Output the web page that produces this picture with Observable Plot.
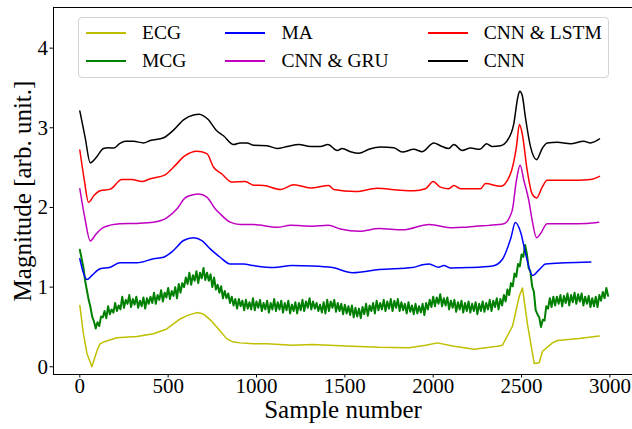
<!DOCTYPE html>
<html><head><meta charset="utf-8">
<script src="https://cdn.jsdelivr.net/npm/d3@7"></script>
<script src="https://cdn.jsdelivr.net/npm/@observablehq/plot@0.6"></script>
<style>
body{margin:0;background:#fff;}
#chart{position:relative;width:632px;height:429px;font-family:"Liberation Serif","DejaVu Serif",serif;overflow:hidden;}
#legend{position:absolute;left:78px;top:17px;width:531px;height:61px;box-sizing:border-box;border:1px solid #d4d4d4;border-radius:4px;background:rgba(255,255,255,0.8);display:grid;grid-auto-flow:column;grid-template-rows:28px 28px;justify-content:start;column-gap:39px;padding:1px 0 0 7px;font-size:19.5px;color:#000;font-family:"Liberation Serif",serif;}
.item{display:flex;align-items:center;white-space:nowrap;}
.sw{display:inline-block;width:40px;height:1.6px;margin-right:16px;}
#ylab{position:absolute;left:21.6px;top:190.5px;font-size:25px;line-height:1;white-space:nowrap;transform:translate(-50%,-50%) rotate(-90deg);color:#000;font-family:"Liberation Serif",serif;}
</style></head>
<body>
<div id="chart"></div>
<script>
const xTicks = [0, 500, 1000, 1500, 2000, 2500, 3000];
const yTicks = [0, 1, 2, 3, 4];
const xLabel = "Sample number";
const yLabel = "Magnitude [arb. unit.]";
const names = ["ECG", "MCG", "MA", "CNN & GRU", "CNN & LSTM", "CNN"];
const colors = ["#bfbf00", "#008000", "#0000ff", "#bf00bf", "#ff0000", "#000000"];

const ecg = [[0,0.77],[20,0.42],[40,0.17],[68,0.0],[100,0.22],[115,0.29],[134,0.31],[210,0.365],[323,0.38],[417,0.415],[492,0.475],[568,0.60],[610,0.645],[662,0.68],[690,0.67],[709,0.645],[740,0.585],[775,0.50],[832,0.35],[870,0.31],[908,0.30],[983,0.29],[1060,0.29],[1200,0.27],[1317,0.28],[1505,0.26],[1694,0.245],[1864,0.24],[1958,0.27],[2024,0.30],[2109,0.26],[2232,0.22],[2373,0.26],[2392,0.27],[2449,0.51],[2487,0.885],[2505,0.99],[2534,0.53],[2572,0.04],[2600,0.05],[2619,0.195],[2675,0.30],[2703,0.33],[2826,0.355],[2939,0.385]];

const mcgStep = 10;
const mcg = [
1.47,1.36,1.25,1.08,0.96,0.84,0.75,0.63,0.57,0.48,
0.56,0.51,0.63,0.62,0.70,0.61,0.76,0.66,0.72,0.68,
0.80,0.70,0.77,0.72,0.88,0.74,0.84,0.79,0.90,0.75,
0.85,0.78,0.88,0.74,0.83,0.76,0.87,0.73,0.86,0.79,
0.88,0.80,0.93,0.79,0.90,0.84,0.96,0.82,0.93,0.87,
0.99,0.85,0.95,0.89,1.00,0.86,1.04,0.93,1.05,1.00,
1.12,1.04,1.18,1.03,1.15,1.08,1.20,1.05,1.18,1.11,
1.24,1.09,1.18,1.08,1.16,1.00,1.12,0.97,1.03,0.93,
1.01,0.86,0.95,0.86,0.92,0.80,0.88,0.77,0.85,0.73,
0.85,0.76,0.83,0.71,0.84,0.73,0.81,0.72,0.86,0.71,
0.82,0.74,0.84,0.70,0.80,0.72,0.83,0.68,0.80,0.72,
0.85,0.70,0.81,0.72,0.83,0.68,0.80,0.71,0.83,0.67,
0.78,0.70,0.81,0.67,0.80,0.71,0.84,0.70,0.82,0.74,
0.86,0.72,0.82,0.73,0.80,0.70,0.78,0.68,0.81,0.67,
0.84,0.70,0.82,0.74,0.84,0.69,0.80,0.70,0.79,0.66,
0.78,0.67,0.76,0.65,0.77,0.62,0.74,0.63,0.73,0.61,
0.75,0.66,0.79,0.64,0.77,0.70,0.80,0.67,0.83,0.71,
0.80,0.72,0.84,0.70,0.82,0.73,0.85,0.70,0.83,0.74,
0.85,0.70,0.81,0.71,0.79,0.67,0.81,0.69,0.77,0.66,
0.79,0.67,0.76,0.68,0.79,0.65,0.80,0.72,0.84,0.75,
0.88,0.76,0.87,0.79,0.91,0.76,0.86,0.77,0.87,0.72,
0.83,0.74,0.84,0.69,0.81,0.72,0.83,0.68,0.80,0.70,
0.82,0.68,0.79,0.70,0.81,0.66,0.79,0.70,0.82,0.69,
0.80,0.72,0.84,0.70,0.83,0.75,0.86,0.72,0.85,0.77,
0.90,0.82,0.97,0.90,1.05,1.01,1.17,1.13,1.29,1.26,
1.41,1.38,1.53,1.42,1.24,1.20,1.01,0.94,0.71,0.66,
0.62,0.50,0.59,0.58,0.76,0.73,0.86,0.75,0.88,0.77,
0.88,0.79,0.90,0.76,0.89,0.80,0.92,0.77,0.90,0.81,
0.93,0.79,0.91,0.82,0.92,0.77,0.88,0.79,0.89,0.75,
0.86,0.76,0.88,0.75,0.90,0.83,0.94,0.86,0.99,0.89];

const ma = [[0,1.355],[20,1.18],[40,1.095],[70,1.15],[115,1.23],[172,1.25],[228,1.305],[323,1.305],[417,1.355],[474,1.375],[530,1.46],[587,1.585],[643,1.62],[691,1.585],[738,1.48],[794,1.375],[851,1.29],[926,1.29],[983,1.27],[1098,1.245],[1200,1.27],[1317,1.265],[1430,1.245],[1543,1.18],[1694,1.22],[1883,1.245],[1940,1.28],[1977,1.29],[2030,1.25],[2060,1.27],[2100,1.24],[2204,1.245],[2336,1.265],[2392,1.35],[2440,1.62],[2465,1.81],[2496,1.68],[2524,1.41],[2562,1.145],[2600,1.22],[2637,1.29],[2750,1.305],[2892,1.315]];

const gru = [[0,2.235],[30,1.85],[59,1.58],[90,1.66],[134,1.75],[228,1.795],[323,1.80],[417,1.815],[492,1.87],[549,1.98],[596,2.12],[640,2.16],[672,2.17],[719,2.13],[766,1.985],[794,1.92],[851,1.815],[908,1.785],[983,1.785],[1117,1.75],[1192,1.775],[1317,1.765],[1407,1.775],[1475,1.73],[1581,1.70],[1694,1.735],[1826,1.72],[1977,1.785],[2109,1.745],[2170,1.75],[2241,1.765],[2315,1.775],[2400,1.795],[2447,1.96],[2471,2.34],[2492,2.53],[2513,2.34],[2541,2.09],[2560,1.84],[2585,1.62],[2607,1.67],[2645,1.795],[2758,1.795],[2871,1.80],[2937,1.815]];

const lstm = [[0,2.72],[25,2.35],[49,2.065],[80,2.15],[115,2.21],[172,2.23],[238,2.35],[294,2.35],[351,2.325],[398,2.36],[483,2.41],[530,2.505],[596,2.65],[662,2.705],[719,2.675],[757,2.505],[804,2.42],[860,2.32],[936,2.325],[983,2.28],[1041,2.275],[1136,2.225],[1211,2.285],[1306,2.245],[1409,2.275],[1437,2.225],[1560,2.20],[1683,2.24],[1796,2.22],[1890,2.21],[1956,2.235],[2000,2.325],[2041,2.255],[2088,2.235],[2117,2.275],[2155,2.235],[2268,2.235],[2296,2.30],[2381,2.265],[2437,2.42],[2471,2.76],[2488,3.04],[2504,2.925],[2532,2.465],[2560,2.17],[2585,2.12],[2617,2.255],[2645,2.34],[2739,2.34],[2815,2.34],[2890,2.35],[2941,2.39]];

const cnn = [[0,3.21],[30,2.88],[59,2.56],[90,2.62],[134,2.74],[160,2.75],[191,2.745],[225,2.80],[257,2.83],[304,2.83],[360,2.81],[398,2.84],[474,2.875],[530,2.97],[587,3.10],[643,3.16],[675,3.17],[700,3.15],[728,3.10],[772,2.97],[813,2.90],[870,2.79],[908,2.81],[945,2.81],[985,2.78],[1060,2.775],[1117,2.74],[1174,2.765],[1240,2.79],[1306,2.765],[1362,2.765],[1404,2.79],[1457,2.715],[1485,2.74],[1532,2.70],[1579,2.68],[1636,2.73],[1702,2.76],[1777,2.75],[1825,2.695],[1890,2.73],[1938,2.70],[2003,2.81],[2041,2.775],[2088,2.74],[2117,2.79],[2164,2.715],[2211,2.745],[2264,2.73],[2302,2.80],[2334,2.765],[2381,2.775],[2419,2.84],[2456,3.05],[2479,3.385],[2490,3.46],[2504,3.405],[2522,3.13],[2551,2.76],[2585,2.60],[2617,2.74],[2645,2.81],[2702,2.82],[2777,2.80],[2852,2.83],[2890,2.81],[2941,2.86]];

const FONT = "'Liberation Serif', 'DejaVu Serif', serif";
const toRows = pairs => pairs.map(([s, v]) => ({s, v}));
const mcgRows = mcg.map((v, i) => ({s: i * mcgStep, v}));
const seriesRows = [toRows(ecg), mcgRows, toRows(ma), toRows(gru), toRows(lstm), toRows(cnn)];
const curves = ["linear", "linear", "monotone-x", "monotone-x", "monotone-x", "monotone-x"];
const widths = [1.5, 2, 1.5, 1.5, 1.5, 1.5];

const lineMarks = seriesRows.map((rows, i) =>
  Plot.line(rows, {x: "s", y: "v", stroke: colors[i], strokeWidth: widths[i], curve: curves[i]}));

const chart = Plot.plot({
  width: 632, height: 429,
  marginLeft: 53, marginRight: 0, marginTop: 7, marginBottom: 55,
  x: {domain: [-149, 3128]},
  y: {domain: [-0.097, 4.51]},
  style: {color: "black", background: "white", overflow: "visible"},
  marks: [
    ...lineMarks,
    Plot.frame({anchor: "left", strokeWidth: 1}),
    Plot.frame({anchor: "top", strokeWidth: 1}),
    Plot.frame({anchor: "bottom", strokeWidth: 1}),
    Plot.axisX({ticks: xTicks, tickSize: 3.5, tickPadding: 0, fontSize: 21, label: null, tickFormat: d3.format("d")}),
    Plot.axisY({ticks: yTicks, tickSize: 3.5, tickPadding: 2, fontSize: 21, label: null, tickFormat: d3.format("d")}),
    Plot.text([xLabel], {text: d => d, frameAnchor: "bottom", dy: 43, lineAnchor: "bottom", fontSize: 25})
  ]
});
chart.style.setProperty("font-family", FONT, "important");
chart.querySelectorAll("g, text").forEach(el => {
  el.removeAttribute("font-family");
  el.style.setProperty("font-family", FONT, "important");
});
const root = document.getElementById("chart");
root.appendChild(chart);

const ylab = document.createElement("div");
ylab.id = "ylab";
ylab.textContent = yLabel;
root.appendChild(ylab);

const legend = document.createElement("div");
legend.id = "legend";
names.forEach((n, i) => {
  const it = document.createElement("div");
  it.className = "item";
  const sw = document.createElement("span");
  sw.className = "sw";
  sw.style.backgroundColor = colors[i];
  const t = document.createElement("span");
  t.textContent = n;
  it.appendChild(sw); it.appendChild(t);
  legend.appendChild(it);
});
root.appendChild(legend);
</script>
</body></html>
